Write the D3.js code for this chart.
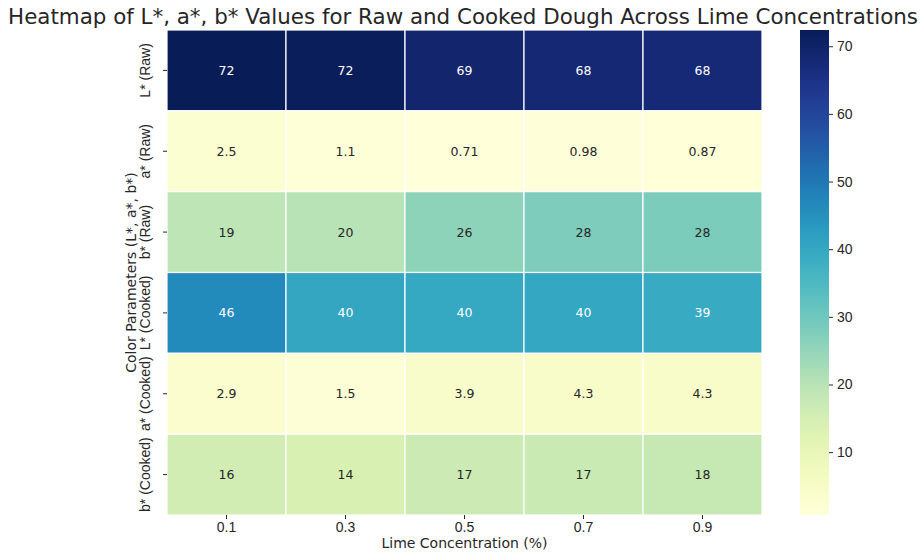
<!DOCTYPE html>
<html>
<head>
<meta charset="utf-8">
<script src="https://cdn.jsdelivr.net/npm/d3@7"></script>
<style>
  body { margin: 0; background: #fff; }
  svg { font-family: "DejaVu Sans", sans-serif; }
</style>
</head>
<body>
<svg id="chart" width="921" height="554"></svg>
<script>
// data
const concentrations = ["0.1", "0.3", "0.5", "0.7", "0.9"];
const parameters = ["L* (Raw)", "a* (Raw)", "b* (Raw)", "L* (Cooked)", "a* (Cooked)", "b* (Cooked)"];
const lRaw = [72.4, 72.1, 69.2, 68.3, 67.8];
const aRaw = [2.5, 1.1, 0.71, 0.98, 0.87];
const bRaw = [19.2, 20.1, 25.9, 28.1, 28.2];
const lCooked = [46.2, 40.2, 39.8, 40.1, 39.2];
const aCooked = [2.9, 1.5, 3.9, 4.3, 4.3];
const bCooked = [15.9, 14.1, 16.8, 17.2, 17.8];
const colorbarTicks = [10, 20, 30, 40, 50, 60, 70];

const rows = [lRaw, aRaw, bRaw, lCooked, aCooked, bCooked];
const cells = [];
rows.forEach((vals, i) => {
    vals.forEach((v, j) => {
        cells.push({ param: parameters[i], conc: concentrations[j], value: v });
    });
});

const svg = d3.select("#chart");
const margin = { top: 30, left: 167, right: 159, bottom: 39 };
const width = 921 - margin.left - margin.right;
const height = 554 - margin.top - margin.bottom;

const g = svg.append("g")
    .attr("transform", `translate(${margin.left},${margin.top})`);

const x = d3.scaleBand().domain(concentrations).range([0, width]);
const y = d3.scaleBand().domain(parameters).range([0, height]);

const allVals = cells.map(d => d.value);
const vmin = d3.min(allVals), vmax = d3.max(allVals);
const color = d3.scaleSequential(d3.interpolateYlGnBu).domain([vmin, vmax]);

// cells
g.selectAll("rect.cell")
    .data(cells)
    .enter().append("rect")
    .attr("class", "cell")
    .attr("x", d => x(d.conc))
    .attr("y", d => y(d.param))
    .attr("width", x.bandwidth())
    .attr("height", y.bandwidth())
    .attr("fill", d => color(d.value))
    .attr("stroke", "#fff")
    .attr("stroke-width", 1.2);

// annotations, light text on dark cells like seaborn
const fmt = d3.format(".2g");
function lum(c) {
    const rgb = d3.rgb(c);
    const f = v => { v /= 255; return v <= 0.03928 ? v / 12.92 : Math.pow((v + 0.055) / 1.055, 2.4); };
    return 0.2126 * f(rgb.r) + 0.7152 * f(rgb.g) + 0.0722 * f(rgb.b);
}
g.selectAll("text.annot")
    .data(cells)
    .enter().append("text")
    .attr("class", "annot")
    .attr("x", d => x(d.conc) + x.bandwidth() / 2)
    .attr("y", d => y(d.param) + y.bandwidth() / 2)
    .attr("text-anchor", "middle")
    .attr("dominant-baseline", "central")
    .style("font-size", "12.5px")
    .attr("fill", d => lum(color(d.value)) > 0.408 ? "#262626" : "#fff")
    .text(d => fmt(d.value));

// axes
const xAxis = g.append("g")
    .attr("transform", `translate(0,${height})`)
    .call(d3.axisBottom(x).tickSize(4).tickPadding(3));
xAxis.select(".domain").remove();
xAxis.selectAll("text").style("font-size", "14px").attr("fill", "#262626");
xAxis.selectAll("line").attr("stroke", "#262626");

const yAxis = g.append("g")
    .call(d3.axisLeft(y).tickSize(4).tickPadding(3));
yAxis.select(".domain").remove();
yAxis.selectAll("line").attr("stroke", "#262626");
yAxis.selectAll("text")
    .style("font-size", "14px")
    .attr("fill", "#262626")
    .attr("text-anchor", "middle")
    .attr("dy", null)
    .attr("x", null)
    .attr("transform", "translate(-17,0) rotate(-90)");

// axis titles
svg.append("text")
    .attr("x", margin.left + width / 2)
    .attr("y", 548)
    .attr("text-anchor", "middle")
    .style("font-size", "14px")
    .attr("fill", "#262626")
    .text("Lime Concentration (%)");

svg.append("text")
    .attr("transform", `translate(136,${margin.top + height / 2}) rotate(-90)`)
    .attr("text-anchor", "middle")
    .style("font-size", "14px")
    .attr("fill", "#262626")
    .text("Color Parameters (L*, a*, b*)");

// title
svg.append("text")
    .attr("x", 463)
    .attr("y", 24)
    .attr("text-anchor", "middle")
    .style("font-size", "21.4px")
    .attr("fill", "#262626")
    .text("Heatmap of L*, a*, b* Values for Raw and Cooked Dough Across Lime Concentrations");

// colorbar
const cbX = 800, cbW = 29;
const cbScale = d3.scaleLinear().domain([vmin, vmax]).range([margin.top + height, margin.top]);
const defs = svg.append("defs");
const grad = defs.append("linearGradient")
    .attr("id", "cbgrad")
    .attr("x1", 0).attr("y1", 1).attr("x2", 0).attr("y2", 0);
d3.range(0, 1.0001, 0.05).forEach(t => {
    grad.append("stop")
        .attr("offset", t)
        .attr("stop-color", d3.interpolateYlGnBu(t));
});
svg.append("rect")
    .attr("x", cbX)
    .attr("y", margin.top)
    .attr("width", cbW)
    .attr("height", height)
    .attr("fill", "url(#cbgrad)");

const cbAxis = svg.append("g")
    .attr("transform", `translate(${cbX + cbW},0)`)
    .call(d3.axisRight(cbScale).tickValues(colorbarTicks).tickSize(4).tickPadding(4));
cbAxis.select(".domain").remove();
cbAxis.selectAll("line").attr("stroke", "#262626");
cbAxis.selectAll("text").style("font-size", "14px").attr("fill", "#262626");
</script>
</body>
</html>
